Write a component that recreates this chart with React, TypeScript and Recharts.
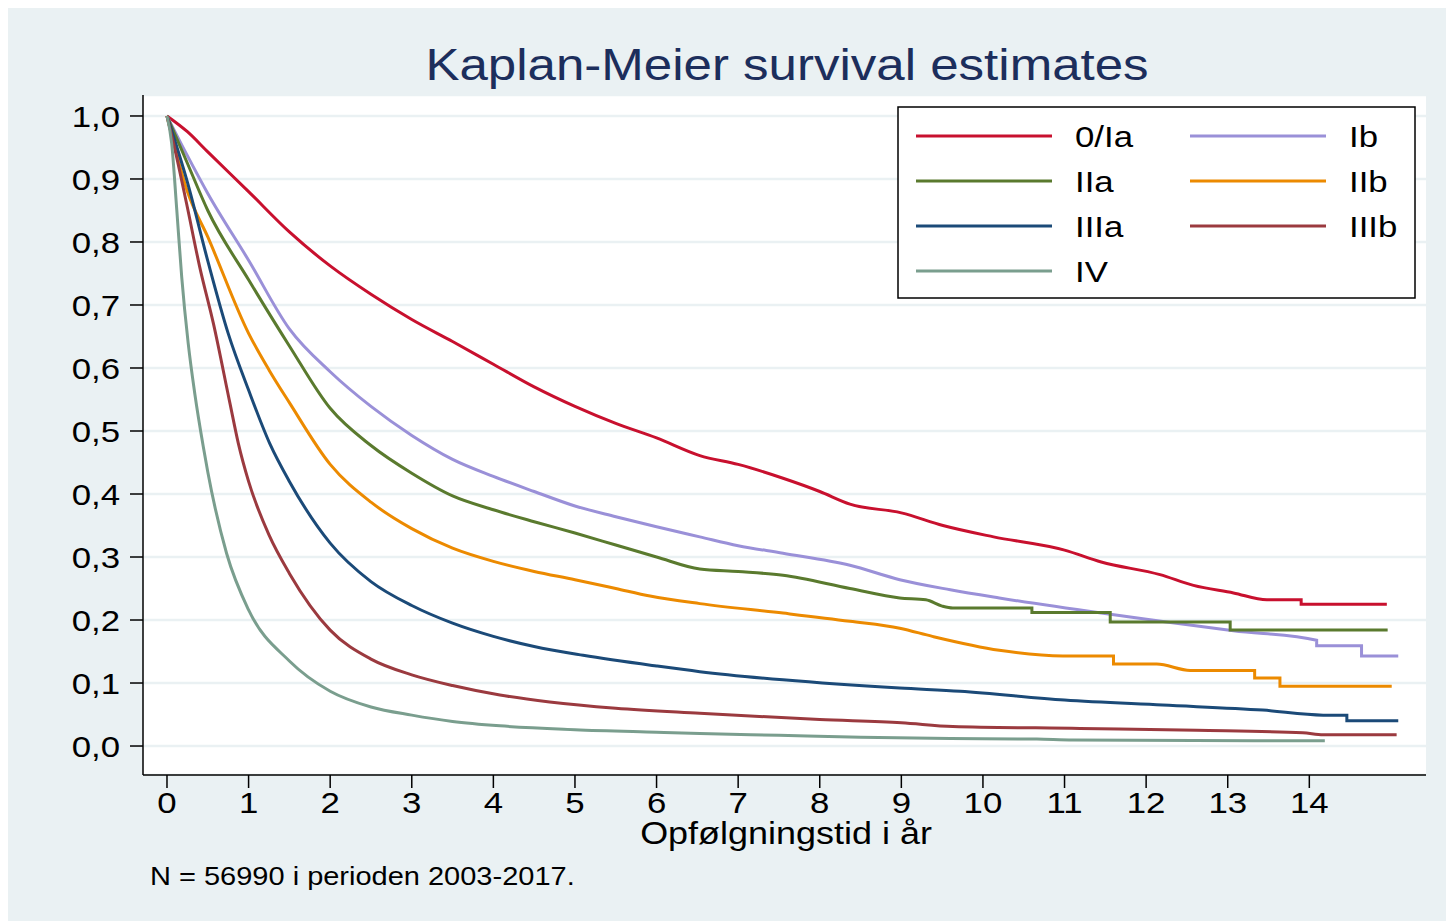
import React from 'react';
import { LineChart, Line, XAxis, YAxis, CartesianGrid } from 'recharts';

// survival estimates, [years, survival]
const stage0Ia = [
  [0, 1], [0.25, 0.975], [0.5, 0.943], [1, 0.88], [1.5, 0.816], [2, 0.762], [2.5, 0.717],
  [3, 0.677], [3.5, 0.642], [4, 0.606], [4.5, 0.57], [5, 0.539], [5.5, 0.512], [6, 0.489],
  [6.53, 0.461], [7, 0.447], [7.55, 0.425], [8, 0.404], [8.37, 0.384], [9, 0.37], [9.51, 0.35],
  [10.13, 0.332], [11, 0.311], [11.45, 0.292], [12.17, 0.272], [12.58, 0.255], [13.07, 0.243],
  [13.48, 0.232], [13.9, 0.232], [13.9, 0.225], [14.95, 0.225],
];
const stageIb = [
  [0, 1], [0.25, 0.937], [0.5, 0.877], [1, 0.771], [1.5, 0.662], [2, 0.594], [2.5, 0.539],
  [3, 0.493], [3.5, 0.455], [4, 0.428], [4.5, 0.404], [5, 0.381], [5.5, 0.364], [6, 0.348],
  [6.53, 0.332], [7, 0.318], [7.55, 0.306], [8.37, 0.287], [8.98, 0.264], [9.6, 0.248],
  [10.2, 0.235], [11.45, 0.211], [12.25, 0.197], [13.07, 0.183], [14.09, 0.168], [14.09, 0.159],
  [14.64, 0.159], [14.64, 0.143], [15.09, 0.143],
];
const stageIIa = [
  [0, 1], [0.25, 0.925], [0.5, 0.85], [1, 0.74], [1.5, 0.635], [2, 0.536], [2.5, 0.477],
  [3, 0.433], [3.5, 0.397], [4, 0.375], [4.5, 0.356], [5, 0.338], [5.5, 0.319], [6, 0.3],
  [6.53, 0.281], [7, 0.277], [7.55, 0.271], [8.37, 0.25], [8.98, 0.235], [9.3, 0.232],
  [9.5, 0.222], [9.63, 0.219], [10.6, 0.219], [10.6, 0.212], [11.56, 0.212], [11.56, 0.197],
  [13.03, 0.197], [13.03, 0.184], [14.96, 0.184],
];
const stageIIb = [
  [0, 1], [0.25, 0.88], [0.5, 0.808], [1, 0.655], [1.25, 0.597], [1.5, 0.545], [2, 0.447],
  [2.5, 0.387], [3, 0.345], [3.5, 0.314], [4, 0.293], [4.5, 0.277], [5, 0.264], [5.5, 0.25],
  [5.92, 0.238], [6.53, 0.226], [7.55, 0.211], [8.37, 0.198], [8.98, 0.187], [9.38, 0.174],
  [10.2, 0.152], [10.98, 0.143], [11.6, 0.143], [11.6, 0.13], [12.13, 0.13], [12.54, 0.12],
  [13.33, 0.12], [13.33, 0.108], [13.64, 0.108], [13.64, 0.095], [15.01, 0.095],
];
const stageIIIa = [
  [0, 1], [0.25, 0.895], [0.5, 0.77], [0.75, 0.655], [1, 0.565], [1.26, 0.48], [1.5, 0.42],
  [2, 0.322], [2.5, 0.261], [3, 0.223], [3.5, 0.195], [4, 0.174], [4.5, 0.158], [5.1, 0.144],
  [6, 0.127], [6.53, 0.118], [7.55, 0.105], [8.98, 0.092], [9.72, 0.087], [11, 0.073],
  [12.2, 0.065], [13.43, 0.057], [14.17, 0.049], [14.46, 0.049], [14.46, 0.04], [15.09, 0.04],
];
const stageIIIb = [
  [0, 1], [0.08, 0.957], [0.24, 0.861], [0.4, 0.761], [0.57, 0.67], [0.77, 0.545],
  [0.875, 0.48], [1, 0.42], [1.25, 0.335], [1.5, 0.274], [2, 0.184], [2.5, 0.138], [3, 0.113],
  [3.5, 0.096], [4.08, 0.081], [4.69, 0.07], [5.5, 0.06], [6.53, 0.052], [8, 0.042], [9, 0.037],
  [9.63, 0.031], [11.19, 0.028], [12.62, 0.025], [13.92, 0.021], [14.17, 0.018], [15.07, 0.018],
];
const stageIV = [
  [0, 1], [0.057, 0.957], [0.12, 0.851], [0.18, 0.745], [0.26, 0.639], [0.34, 0.56],
  [0.445, 0.475], [0.5, 0.435], [0.73, 0.306], [1, 0.216], [1.5, 0.135], [2, 0.087],
  [2.5, 0.062], [3, 0.049], [3.5, 0.039], [4.08, 0.032], [5, 0.026], [6, 0.022], [6.53, 0.02],
  [7.5, 0.017], [8.5, 0.014], [9.6, 0.012], [10.66, 0.011], [11.1, 0.0095], [13.33, 0.0085],
  [14.19, 0.0085],
];

const xTicks = [0, 1, 2, 3, 4, 5, 6, 7, 8, 9, 10, 11, 12, 13, 14];
const yTicks = [0, 0.1, 0.2, 0.3, 0.4, 0.5, 0.6, 0.7, 0.8, 0.9, 1.0];

const series = [
  { name: '0/Ia', data: stage0Ia, color: '#c8102e' },
  { name: 'Ib', data: stageIb, color: '#9a90d8' },
  { name: 'IIa', data: stageIIa, color: '#5a7a2e' },
  { name: 'IIb', data: stageIIb, color: '#ec8a00' },
  { name: 'IIIa', data: stageIIIa, color: '#1b4a78' },
  { name: 'IIIb', data: stageIIIb, color: '#9b3a3f' },
  { name: 'IV', data: stageIV, color: '#7a9e8e' },
];

const FONT = '"Liberation Sans", Arial, sans-serif';
const SX = 1.16; // the original graph is a bit stretched sideways

const toPts = (arr: number[][]) => arr.map(([t, s]) => ({ t, s }));
const comma = (v: number) => v.toFixed(1).replace('.', ',');

const WideText = ({ x, y, size, anchor = 'start', fill = '#000', children }: any) => (
  <text
    transform={`translate(${x},${y}) scale(${SX},1)`}
    textAnchor={anchor}
    fontSize={size}
    fontFamily={FONT}
    fill={fill}
  >
    {children}
  </text>
);

const YTick = (props: any) => (
  <WideText x={props.x} y={props.y + 11} size={30} anchor="end">
    {comma(props.payload.value)}
  </WideText>
);

const XTick = (props: any) => (
  <WideText x={props.x} y={props.y + 23} size={30} anchor="middle">
    {props.payload.value}
  </WideText>
);

const legendRows = [
  ['0/Ia', 'Ib'],
  ['IIa', 'IIb'],
  ['IIIa', 'IIIb'],
  ['IV'],
];

const Legend = () => {
  const colorOf = (n: string) => series.find((s) => s.name === n)!.color;
  return (
    <g transform="translate(890,99)">
      <rect x={0} y={0} width={517} height={191} fill="#fff" stroke="#000" strokeWidth={1.5} />
      {legendRows.map((row, i) =>
        row.map((name, j) => {
          const y = 29 + i * 45;
          const lx = j === 0 ? 18 : 292;
          return (
            <g key={name}>
              <line x1={lx} x2={lx + 136} y1={y} y2={y} stroke={colorOf(name)} strokeWidth={3} />
              <WideText x={lx + 159} y={y + 11} size={30}>
                {name}
              </WideText>
            </g>
          );
        })
      )}
    </g>
  );
};

export default function App() {
  return (
    <div style={{ position: 'relative', width: 1446, height: 913, background: '#eaf1f3' }}>
      <LineChart
        width={1446}
        height={913}
        margin={{ top: 87, right: 28, bottom: 106, left: 75 }}
      >
        <CartesianGrid vertical={false} fill="#ffffff" stroke="#eaf1f3" strokeWidth={2.5} />
        <XAxis
          type="number"
          dataKey="t"
          domain={[-0.294, 15.43]}
          ticks={xTicks}
          allowDataOverflow
          height={40}
          tickSize={13}
          tickMargin={2}
          tick={XTick}
          axisLine={{ stroke: '#000', strokeWidth: 1.5 }}
          tickLine={{ stroke: '#000', strokeWidth: 1.5 }}
        />
        <YAxis
          type="number"
          domain={[-0.046, 1.0333]}
          ticks={yTicks}
          allowDataOverflow
          width={60}
          tickSize={13}
          tickMargin={10}
          tick={YTick}
          axisLine={{ stroke: '#000', strokeWidth: 1.5 }}
          tickLine={{ stroke: '#000', strokeWidth: 1.5 }}
        />
        {series.map((s) => (
          <Line
            key={s.name}
            name={s.name}
            data={toPts(s.data)}
            dataKey="s"
            type="monotone"
            stroke={s.color}
            strokeWidth={3}
            dot={false}
            activeDot={false}
            isAnimationActive={false}
          />
        ))}
      </LineChart>
      <svg
        width={1446}
        height={913}
        style={{ position: 'absolute', left: 0, top: 0, pointerEvents: 'none' }}
      >
        <WideText x={779} y={72} size={44} anchor="middle" fill="#1c2e5c">
          Kaplan-Meier survival estimates
        </WideText>
        <WideText x={778} y={836} size={31} anchor="middle">
          Opfølgningstid i år
        </WideText>
        <WideText x={142} y={877} size={25}>
          N = 56990 i perioden 2003-2017.
        </WideText>
        <Legend />
      </svg>
    </div>
  );
}
